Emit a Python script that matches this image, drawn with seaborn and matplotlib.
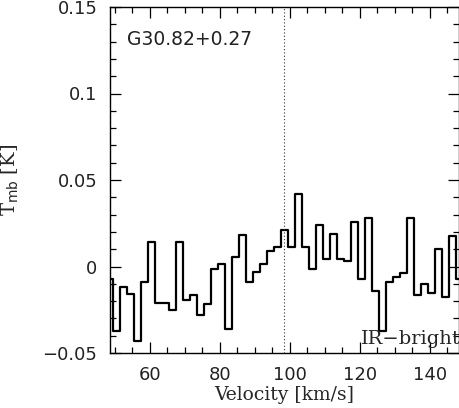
import numpy as np
import pandas as pd
import matplotlib
matplotlib.use("Agg")
import matplotlib.pyplot as plt
import seaborn as sns
from matplotlib.ticker import MultipleLocator, FixedLocator

# Data (channel centres in km/s, brightness temperature in K)
velocity = [48.4 + 2 * i for i in range(51)]
tmb = [-0.007, -0.037, -0.012, -0.016, -0.043, -0.009, 0.014, -0.021, -0.021, -0.025,
       0.014, -0.0195, -0.0166, -0.028, -0.0214, -0.0012, 0.0012, -0.036, 0.0056, 0.018,
       -0.0089, -0.003, 0.0012, 0.0089, 0.0114, 0.021, 0.0114, 0.042, 0.0114, -0.0015,
       0.024, 0.0046, 0.0185, 0.0046, 0.003, 0.026, -0.007, 0.028, -0.0143, -0.037,
       -0.0089, -0.006, -0.0035, 0.028, -0.0166, -0.0104, -0.0156, 0.0104, -0.0175, 0.0177,
       -0.007]
v_sys = 98.4
source_name = "G30.82+0.27"
source_class = "IR\u2212bright"
xticks = [60, 80, 100, 120, 140]
xtick_labels = ["60", "80", "100", "120", "140"]
yticks = [-0.05, 0, 0.05, 0.1, 0.15]
ytick_labels = ["\u22120.05", "0", "0.05", "0.1", "0.15"]

sns.set_style("ticks")
plt.rcParams["font.family"] = ["DejaVu Sans"]

df = pd.DataFrame({"v": velocity, "t": tmb})

fig = plt.figure(figsize=(4.6, 4.08), dpi=100)
ax = fig.add_axes([110 / 460, 55 / 408, 349 / 460, 346 / 408])

sns.lineplot(data=df, x="v", y="t", ax=ax, estimator=None, sort=False,
             drawstyle="steps-mid", color="black", linewidth=1.6)
ax.axvline(v_sys, color="#333333", linestyle=(0, (1, 2)), linewidth=0.8)

ax.set_xlim(48.6, 148.3)
ax.set_ylim(-0.05, 0.15)
ax.xaxis.set_major_locator(FixedLocator(xticks))
ax.set_xticklabels(xtick_labels)
ax.yaxis.set_major_locator(FixedLocator(yticks))
ax.set_yticklabels(ytick_labels)
ax.xaxis.set_minor_locator(MultipleLocator(5))
ax.yaxis.set_minor_locator(MultipleLocator(0.01))
ax.tick_params(which="both", direction="in", top=True, right=True, colors="black",
               labelsize=13, width=0.9)
ax.tick_params(which="major", length=8)
ax.tick_params(which="minor", length=4)
ax.tick_params(axis="y", pad=9)
ax.tick_params(axis="x", pad=9)
for lab in ax.get_xticklabels() + ax.get_yticklabels():
    lab.set_color("#222222")
for s in ax.spines.values():
    s.set_color("black")
    s.set_linewidth(1.0)

ax.set_xlabel("Velocity [km/s]", family="DejaVu Serif", fontsize=13.5, labelpad=2)
ax.set_ylabel(r"T$_{\rm mb}$ [K]", family="DejaVu Serif", fontsize=14)
ax.yaxis.set_label_coords(-0.255, 0.5)
ax.text(0.05, 0.905, source_name, transform=ax.transAxes, fontsize=13.5,
        ha="left", va="center", color="#222222")
ax.text(1.005, 0.04, source_class, transform=ax.transAxes, fontsize=14,
        family="DejaVu Serif", ha="right", va="center")

fig.savefig("out.png", dpi=100)
